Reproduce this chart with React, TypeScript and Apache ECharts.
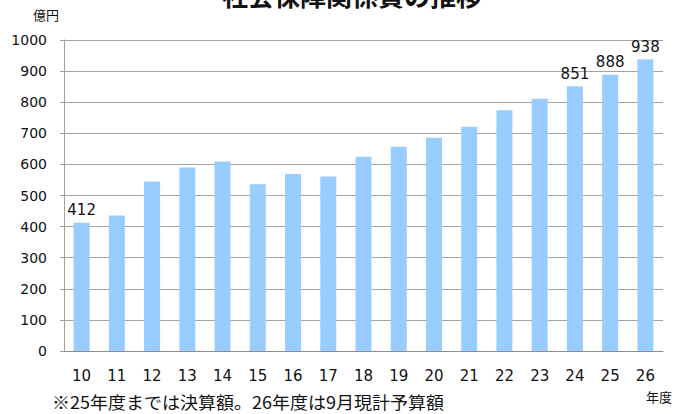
import React, { useEffect, useRef } from "react";
import * as echarts from "echarts";

const years = ["10", "11", "12", "13", "14", "15", "16", "17", "18", "19", "20", "21", "22", "23", "24", "25", "26"];
const values = [412, 436, 545, 590, 609, 536, 569, 561, 625, 657, 686, 721, 774, 811, 851, 888, 938];
const labeledYears = ["10", "24", "25", "26"];
const yTicks = [0, 100, 200, 300, 400, 500, 600, 700, 800, 900, 1000];

const titleText = "社会保障関係費の推移";
const unitText = "億円";
const xUnitText = "年度";
const noteText = "※25年度までは決算額。26年度は9月現計予算額";

export default function App() {
  const ref = useRef<HTMLDivElement>(null);
  useEffect(() => {
    if (!ref.current) return;
    const chart = echarts.init(ref.current, null, { renderer: "svg" });
    const jp = "'Noto Sans CJK JP', sans-serif";
    const num = "'DejaVu Sans', sans-serif";
    chart.setOption({
      animation: false,
      backgroundColor: "#ffffff",
      grid: { left: 64, right: 29, top: 40, bottom: 63, containLabel: false },
      xAxis: {
        type: "category",
        data: years,
        axisLine: { show: true, lineStyle: { color: "#8c8c8c", width: 1 } },
        axisTick: { show: false },
        axisLabel: { color: "#111", fontSize: 15, fontFamily: num, margin: 17 },
      },
      yAxis: {
        type: "value",
        min: yTicks[0],
        max: yTicks[yTicks.length - 1],
        interval: 100,
        axisLine: { show: true, lineStyle: { color: "#a0a0a0", width: 1 } },
        axisTick: { show: true, inside: false, length: 4, lineStyle: { color: "#a0a0a0" } },
        axisLabel: {
          color: "#111",
          fontSize: 14,
          fontFamily: num,
          margin: 17,
          formatter: (v: number) => String(v),
        },
        splitLine: { show: true, lineStyle: { color: "#a3a3a3", width: 1 } },
      },
      series: [
        {
          type: "bar",
          data: values.map((v, i) => ({
            value: v,
            label: { show: labeledYears.includes(years[i]) },
          })),
          barWidth: 16,
          itemStyle: { color: "#99ccff" },
          label: {
            position: "top",
            distance: 5,
            color: "#111",
            fontSize: 15,
            fontFamily: num,
          },
        },
      ],
      graphic: [
        {
          type: "text",
          x: 352,
          y: -6,
          style: {
            text: titleText,
            x: 0,
            y: 0,
            font: `bold 26px ${jp}`,
            fill: "#111",
            textAlign: "center",
            textVerticalAlign: "middle",
          },
        },
        {
          type: "text",
          x: 33,
          y: 14,
          style: {
            text: unitText,
            font: `13px ${jp}`,
            fill: "#111",
            textAlign: "left",
            textVerticalAlign: "middle",
          },
        },
        {
          type: "text",
          x: 646,
          y: 396,
          style: {
            text: xUnitText,
            font: `13px ${jp}`,
            fill: "#111",
            textAlign: "left",
            textVerticalAlign: "middle",
          },
        },
        {
          type: "text",
          x: 52,
          y: 402,
          scaleX: 1.06,
          style: {
            text: noteText,
            font: `17px ${jp}`,
            fill: "#111",
            textAlign: "left",
            textVerticalAlign: "middle",
          },
        },
      ],
    });
    return () => chart.dispose();
  }, []);
  return <div ref={ref} style={{ width: 692, height: 414, position: "absolute", left: 0, top: 0 }} />;
}
